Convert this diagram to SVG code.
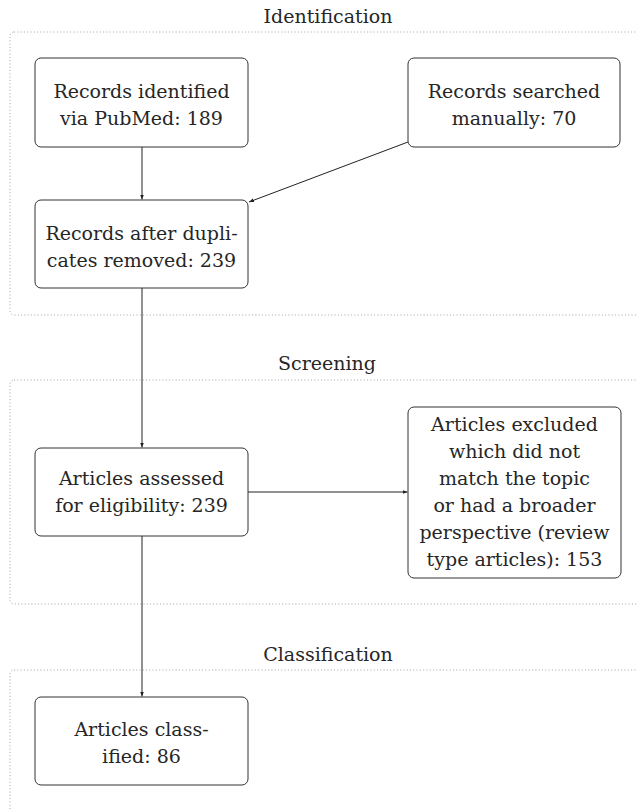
<svg xmlns="http://www.w3.org/2000/svg" width="637" height="811" viewBox="0 0 637 811">
<style>
  .frame { fill: none; stroke: #9a9a9a; stroke-width: 0.9; stroke-dasharray: 1 2.3; }
  .box { fill: #ffffff; stroke: #333333; stroke-width: 1; }
  .t { font-family: "DejaVu Serif", "Liberation Serif", serif; font-size: 19px; fill: #262626; text-anchor: middle; }
  .edge { fill: none; stroke: #222222; stroke-width: 1; }
</style>
<defs>
  <marker id="arr" viewBox="0 0 10 10" refX="10" refY="5" markerWidth="5" markerHeight="5" orient="auto" markerUnits="userSpaceOnUse">
    <path d="M0,1 L10,5 L0,9 Z" fill="#222222"/>
  </marker>
</defs>
<rect width="637" height="811" fill="#ffffff"/>

<g id="stage-identification">
  <rect class="frame" x="10" y="32" width="700" height="283" rx="4"/>
  <text class="t" x="328" y="23">Identification</text>
</g>
<g id="stage-screening">
  <rect class="frame" x="10" y="380" width="700" height="224" rx="4"/>
  <text class="t" x="327" y="370">Screening</text>
</g>
<g id="stage-classification">
  <rect class="frame" x="10" y="670" width="700" height="300" rx="4"/>
  <text class="t" x="328" y="661">Classification</text>
</g>

<g id="connectors">
  <line class="edge" x1="142" y1="147" x2="142" y2="199.5" marker-end="url(#arr)"/>
  <line class="edge" x1="408" y1="142" x2="249" y2="202" marker-end="url(#arr)"/>
  <line class="edge" x1="142" y1="288" x2="142" y2="447.5" marker-end="url(#arr)"/>
  <line class="edge" x1="248" y1="492" x2="407.5" y2="492" marker-end="url(#arr)"/>
  <line class="edge" x1="142" y1="536" x2="142" y2="696.5" marker-end="url(#arr)"/>
</g>

<g id="pubmed">
  <rect class="box" x="35" y="58" width="213" height="89" rx="6"/>
  <text class="t" x="141.5" y="98">Records identified</text>
  <text class="t" x="141.5" y="125">via PubMed: 189</text>
</g>
<g id="manual">
  <rect class="box" x="408" y="58" width="212" height="89" rx="6"/>
  <text class="t" x="514" y="98">Records searched</text>
  <text class="t" x="514" y="125">manually: 70</text>
</g>
<g id="dedup">
  <rect class="box" x="35" y="200" width="213" height="88" rx="6"/>
  <text class="t" x="141.5" y="240">Records after dupli-</text>
  <text class="t" x="141.5" y="267">cates removed: 239</text>
</g>
<g id="assessed">
  <rect class="box" x="35" y="448" width="213" height="88" rx="6"/>
  <text class="t" x="141.5" y="485">Articles assessed</text>
  <text class="t" x="141.5" y="512">for eligibility: 239</text>
</g>
<g id="excluded">
  <rect class="box" x="408" y="407" width="213" height="171" rx="6"/>
  <text class="t" x="514.5" y="431">Articles excluded</text>
  <text class="t" x="514.5" y="458">which did not</text>
  <text class="t" x="514.5" y="485">match the topic</text>
  <text class="t" x="514.5" y="512">or had a broader</text>
  <text class="t" x="514.5" y="539">perspective (review</text>
  <text class="t" x="514.5" y="566">type articles): 153</text>
</g>
<g id="classified">
  <rect class="box" x="35" y="697" width="213" height="88" rx="6"/>
  <text class="t" x="141.5" y="736">Articles class-</text>
  <text class="t" x="141.5" y="763">ified: 86</text>
</g>
</svg>
